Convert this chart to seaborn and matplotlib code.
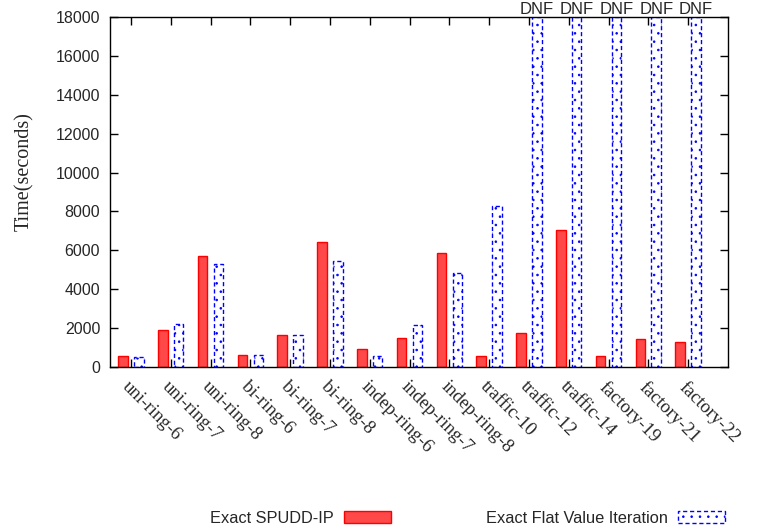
import numpy as np
import pandas as pd
import matplotlib
matplotlib.use('Agg')
from matplotlib import pyplot as plt
import seaborn as sns

# valeurs (secondes)
problems = ['uni-ring-6', 'uni-ring-7', 'uni-ring-8', 'bi-ring-6', 'bi-ring-7', 'bi-ring-8',
            'indep-ring-6', 'indep-ring-7', 'indep-ring-8', 'traffic-10', 'traffic-12',
            'traffic-14', 'factory-19', 'factory-21', 'factory-22']
spudd_ip = [540, 1910, 5710, 630, 1665, 6430, 900, 1500, 5870, 580, 1750, 7060, 580, 1460, 1270]
# DNF = limite de temps atteinte (18000 s)
flat_vi = [530, 2230, 5270, 620, 1660, 5440, 570, 2165, 4840, 8300, 18000, 18000, 18000, 18000, 18000]
dnf = [False] * 10 + [True] * 5
methods = ['Exact SPUDD-IP', 'Exact Flat Value Iteration']

df = pd.DataFrame({
    'problem': problems * 2,
    'time': spudd_ip + flat_vi,
    'method': [methods[0]] * len(problems) + [methods[1]] * len(problems),
})

sns.set_style('ticks')
plt.rcParams['font.family'] = ['Liberation Sans', 'DejaVu Sans']
plt.rcParams['hatch.linewidth'] = 0.6

fig = plt.figure(figsize=(7.63, 5.31), dpi=100)
ax = fig.add_axes([0.144, 0.309, 0.954 - 0.144, 0.968 - 0.309])

sns.barplot(data=df, x='problem', y='time', hue='method', hue_order=methods,
            width=0.8, gap=0.4, errorbar=None, ax=ax,
            palette=['#ff4444', 'white'])

for p in ax.containers[0]:
    p.set_facecolor('#ff4848')
    p.set_edgecolor('#ff0000')
    p.set_linewidth(1.0)
for p in ax.containers[1]:
    p.set_facecolor('white')
    p.set_edgecolor('#0000ff')
    p.set_linestyle((0, (3, 2)))
    p.set_linewidth(1.0)
    p.set_hatch('..')

ax.set_xlim(-0.53, 15.0)
ax.set_ylim(0, 18000)
ax.set_yticks(np.arange(0, 18001, 2000))
ax.tick_params(direction='in', top=True, right=True, length=6, width=1, color='black')
ax.tick_params(axis='y', labelsize=11.5, pad=7)
for s in ax.spines.values():
    s.set_visible(True)
    s.set_color('black')
    s.set_linewidth(1.0)

ax.set_xlabel('')
ax.set_xticks(range(len(problems)))
ax.set_xticklabels(problems, rotation=-45, ha='left', va='top', rotation_mode='anchor',
                   family='Liberation Serif', fontsize=13.5)
ax.tick_params(axis='x', pad=8)
ax.set_ylabel('Time(seconds)', family='Liberation Serif', fontsize=14.5)
ax.yaxis.set_label_coords(-0.122, 0.557)

# etiquettes DNF au-dessus des barres coupees
for i, flag in enumerate(dnf):
    if flag:
        ax.text(i + 0.2, 18000, 'DNF', ha='center', va='bottom', fontsize=12, clip_on=False)

ax.legend_.remove()
fig.legend(handles=[ax.containers[0], ax.containers[1]], labels=methods,
           loc='center', bbox_to_anchor=(0.613, 0.024), ncol=2, frameon=False,
           markerfirst=False, handlelength=2.9, handleheight=0.75, handletextpad=0.6,
           columnspacing=5.8, fontsize=11.8)

fig.savefig('out.png', dpi=100)
